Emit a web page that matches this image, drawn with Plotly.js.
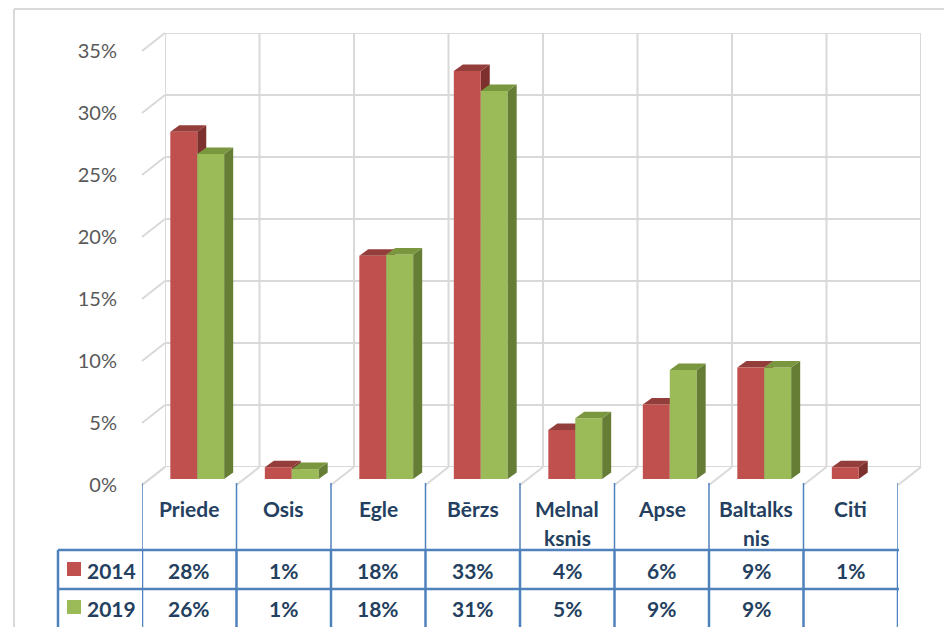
<!DOCTYPE html>
<html>
<head>
<meta charset="utf-8">
<script src="https://cdn.plot.ly/plotly-3.0.1.min.js"></script>
<style>html,body{margin:0;padding:0;background:#fff;}#chart{width:944px;height:627px;}</style>
</head>
<body>
<div id="chart"></div>
<script>
// ---------- data ----------
const categories = ['Priede','Osis','Egle','Bērzs','Melnalksnis','Apse','Baltalksnis','Citi'];
const categoryLabels = ['Priede','Osis','Egle','Bērzs','Melnal<br>ksnis','Apse','Baltalks<br>nis','Citi'];
const years = ['2014','2019'];
const values2014 = [28.0, 0.95, 18.0, 32.9, 3.95, 6.0, 9.0, 0.95];
const values2019 = [26.2, 0.8, 18.1, 31.3, 4.9, 8.8, 9.0, null];
const yTicks = [0, 5, 10, 15, 20, 25, 30, 35];
const yTickText = ['0%', '5%', '10%', '15%', '20%', '25%', '30%', '35%'];

// ---------- layout geometry ----------
const W = 944, H = 627;
const px = x => x / W;
const py = y => 1 - y / H;
const CAT_PX = 756 / 8;
const UNIT_PX = 434 / 35;
const FRONT = {left:142, zero:485};
const BACK = {left:165, zero:467};
const BAR_W = 0.285;
const DX = 9, DY = 6.5;
const FONT = 'Lato, "Open Sans", sans-serif';
const GRID = '#D9D9D9';
const BLUE = '#4F81BD';
const TXT = '#243F60';
const TABLE_FONT = {family:FONT, size:21, color:TXT, weight:'bold'};
const colors = {
  '2014': {front: '#C0504D', top: '#943E3B', side: '#7E302E'},
  '2019': {front: '#9BBB59', top: '#7A963F', side: '#667D35'}
};
const idx = categories.map((c, i) => i);
const n = categories.length;
const frontY = v => FRONT.zero - v * UNIT_PX;
const backY = v => BACK.zero - v * UNIT_PX;

const shapes = [];
const annotations = [];

// outer chart border
shapes.push({type:'line', xref:'paper', yref:'paper', x0:px(14), x1:px(14), y0:py(9), y1:0, line:{color:GRID, width:2}, layer:'below'});
shapes.push({type:'line', xref:'paper', yref:'paper', x0:px(14), x1:1, y0:py(9), y1:py(9), line:{color:GRID, width:2}, layer:'below'});

// back wall (xy)
for (let k = 0; k <= n; k++) {
  shapes.push({type:'line', xref:'x', yref:'y', x0:k-0.5, x1:k-0.5, y0:0, y1:35, line:{color:GRID, width:2}, layer:'below'});
}
yTicks.forEach(v => {
  shapes.push({type:'line', xref:'x', yref:'y', x0:-0.5, x1:n-0.5, y0:v, y1:v, line:{color:GRID, width:2}, layer:'below'});
});

// side wall + floor diagonals (front plane -> back plane)
yTicks.forEach(v => {
  shapes.push({type:'line', xref:'paper', yref:'paper', x0:px(FRONT.left), y0:py(frontY(v)), x1:px(BACK.left), y1:py(backY(v)), line:{color:GRID, width:2}, layer:'below'});
});
for (let k = 0; k <= n; k++) {
  shapes.push({type:'line', xref:'paper', yref:'paper', x0:px(FRONT.left + k * CAT_PX), y0:py(FRONT.zero), x1:px(BACK.left + k * CAT_PX), y1:py(BACK.zero), line:{color:GRID, width:2}, layer:'below'});
}

// 3D faces of the bars
const series = [values2014, values2019];
series.forEach((vals, s) => {
  const c = colors[years[s]];
  const layer = s === 0 ? 'below' : 'above';
  const off = s === 0 ? -BAR_W : 0;
  const bwPx = BAR_W * CAT_PX;
  vals.forEach((v, i) => {
    if (v === null || v === undefined) return;
    const xl = i + off, xr = xl + BAR_W;
    const dyData = DY / UNIT_PX;
    // side face
    shapes.push({type:'path', xref:'x2', yref:'y2', xsizemode:'pixel', ysizemode:'scaled', xanchor:xr,
      path:`M0,0 L0,${v} L${DX},${v + dyData} L${DX},${dyData} Z`,
      fillcolor:c.side, line:{width:0}, layer:layer});
    // top face
    shapes.push({type:'path', xref:'x2', yref:'y2', xsizemode:'pixel', ysizemode:'pixel', xanchor:xl, yanchor:v,
      path:`M0,0 L${bwPx},0 L${bwPx + DX},${DY} L${DX},${DY} Z`,
      fillcolor:c.top, line:{width:0}, layer:layer});
  });
});

// data table lines
for (let k = 0; k <= n; k++) {
  shapes.push({type:'line', xref:'x3', yref:'paper', x0:k-0.5, x1:k-0.5, y0:py(483), y1:py(550), line:{color:BLUE, width:1.5}, layer:'above'});
  shapes.push({type:'line', xref:'x3', yref:'paper', x0:k-0.5, x1:k-0.5, y0:py(550), y1:0, line:{color:BLUE, width:2.5}, layer:'above'});
}
shapes.push({type:'line', xref:'paper', yref:'paper', x0:px(58), x1:px(58), y0:py(550), y1:0, line:{color:BLUE, width:2.5}, layer:'above'});
[550, 589].forEach(yy => {
  shapes.push({type:'line', xref:'paper', yref:'paper', x0:px(58), x1:px(899), y0:py(yy), y1:py(yy), line:{color:BLUE, width:2.5}, layer:'above'});
});

// category header labels
categoryLabels.forEach((lab, i) => {
  lab.split('<br>').forEach((line, j) => {
    annotations.push({xref:'x3', yref:'paper', x:i, y:py(508 + 29 * j), text:line, showarrow:false,
      xanchor:'center', yanchor:'middle', font:TABLE_FONT});
  });
});

// value rows + legend keys
const rowY = [570, 608];
series.forEach((vals, s) => {
  const c = colors[years[s]];
  vals.forEach((v, i) => {
    if (v === null || v === undefined) return;
    annotations.push({xref:'x3', yref:'paper', x:i, y:py(rowY[s]), text:Math.round(v) + '%', showarrow:false,
      xanchor:'center', yanchor:'middle', font:TABLE_FONT});
  });
  annotations.push({xref:'paper', yref:'paper', x:px(111.5), y:py(rowY[s]), text:years[s], showarrow:false,
    xanchor:'center', yanchor:'middle', font:TABLE_FONT});
  shapes.push({type:'rect', xref:'paper', yref:'paper', x0:px(67), x1:px(81), y0:py(rowY[s] - 8), y1:py(rowY[s] + 6),
    fillcolor:c.front, line:{width:0}, layer:'above'});
});

// ---------- traces ----------
const traces = series.map((vals, s) => ({
  type:'bar', name:years[s], x:idx, y:vals, xaxis:'x2', yaxis:'y2',
  width:BAR_W, offset: s === 0 ? -BAR_W : 0,
  marker:{color:colors[years[s]].front, line:{width:0}},
  hoverinfo:'skip', showlegend:false
}));

const hidden = {visible:false, fixedrange:true};
const layout = {
  width:W, height:H, margin:{l:0, r:0, t:0, b:0},
  paper_bgcolor:'#ffffff', plot_bgcolor:'rgba(0,0,0,0)',
  showlegend:false, barmode:'overlay',
  xaxis: Object.assign({}, hidden, {domain:[px(BACK.left), px(BACK.left + 8 * CAT_PX)], range:[-0.5, n-0.5], anchor:'y'}),
  yaxis: Object.assign({}, hidden, {domain:[py(BACK.zero), py(backY(35))], range:[0, 35], anchor:'x'}),
  xaxis2: Object.assign({}, hidden, {domain:[px(150), px(150 + 8 * CAT_PX)], range:[-0.5, n-0.5], anchor:'y2'}),
  yaxis2: Object.assign({}, hidden, {domain:[py(479), py(479 - 35 * UNIT_PX)], range:[0, 35], anchor:'x2'}),
  xaxis3: Object.assign({}, hidden, {domain:[px(FRONT.left), px(FRONT.left + 8 * CAT_PX)], range:[-0.5, n-0.5], anchor:'y3'}),
  yaxis3: {domain:[py(FRONT.zero), py(frontY(35))], range:[0, 35], anchor:'x3', fixedrange:true,
    showgrid:false, zeroline:false, showline:false,
    tickmode:'array', tickvals:yTicks, ticktext:yTickText,
    ticks:'outside', ticklen:20, tickcolor:'rgba(0,0,0,0)',
    tickfont:{family:FONT, size:20, color:'#595959'}},
  shapes:shapes,
  annotations:annotations
};

Plotly.newPlot('chart', traces, layout, {staticPlot:true, displayModeBar:false});
</script>
</body>
</html>
